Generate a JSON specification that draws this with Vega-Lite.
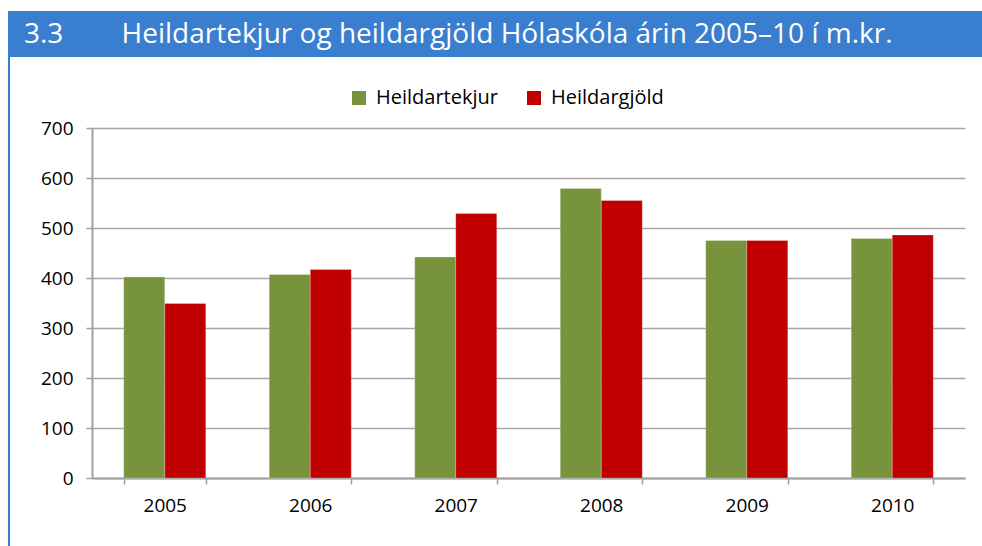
{
  "$schema": "https://vega.github.io/schema/vega-lite/v6.json",
  "padding": {"left": 8, "top": 11, "right": 0, "bottom": 0},
  "background": "white",
  "spacing": 0,
  "resolve": {"legend": {"color": "independent"}},
  "config": {"font": "Open Sans", "concat": {"spacing": 0}},
  "hconcat": [
    {
      "width": 2,
      "height": 535,
      "view": {"fill": "#397ECF", "stroke": null},
      "data": {"values": [{}]},
      "mark": {"type": "text"},
      "encoding": {"text": {"value": ""}}
    },
    {
      "spacing": 0,
      "resolve": {"legend": {"color": "independent"}},
      "vconcat": [
        {
          "width": 890,
          "height": 46,
          "view": {"stroke": null},
          "data": {"values": [{"label": "3.3\u00a0\u00a0\u00a0\u00a0\u00a0\u00a0\u00a0\u00a0Heildartekjur og heildargjöld Hólaskóla árin 2005–10 í m.kr."}]},
          "layer": [
            {
              "mark": {"type": "rect", "color": "#397ECF"},
              "encoding": {"x": {"value": -82}, "x2": {"value": 890}, "y": {"value": 0}, "y2": {"value": 46}}
            },
            {
              "mark": {"type": "text", "align": "left", "baseline": "alphabetic", "color": "white", "font": "Open Sans", "fontSize": 28},
              "encoding": {"text": {"field": "label"}, "x": {"value": -68}, "y": {"value": 32}}
            }
          ]
        },
        {
          "width": 873,
          "height": 350,
          "view": {"stroke": null},
          "data": {
            "values": [
              {"year": "2005", "series": "Heildartekjur", "value": 402},
              {"year": "2005", "series": "Heildargjöld", "value": 349},
              {"year": "2006", "series": "Heildartekjur", "value": 407},
              {"year": "2006", "series": "Heildargjöld", "value": 417},
              {"year": "2007", "series": "Heildartekjur", "value": 442},
              {"year": "2007", "series": "Heildargjöld", "value": 529},
              {"year": "2008", "series": "Heildartekjur", "value": 579},
              {"year": "2008", "series": "Heildargjöld", "value": 555},
              {"year": "2009", "series": "Heildartekjur", "value": 475},
              {"year": "2009", "series": "Heildargjöld", "value": 475},
              {"year": "2010", "series": "Heildartekjur", "value": 479},
              {"year": "2010", "series": "Heildargjöld", "value": 486}
            ]
          },
          "mark": {"type": "bar", "stroke": "white", "strokeOpacity": 0.25, "strokeWidth": 1},
          "encoding": {
            "x": {
              "field": "year",
              "type": "nominal",
              "scale": {"paddingInner": 0.436, "paddingOuter": 0.218},
              "axis": {
                "title": null,
                "labelAngle": 0,
                "tickBand": "extent",
                "domainColor": "#A0A0A0",
                "domainWidth": 2,
                "tickColor": "#A0A0A0",
                "tickWidth": 1.5,
                "tickSize": 6,
                "labelFont": "Open Sans",
                "labelFontSize": 19,
                "labelColor": "black",
                "labelPadding": 12,
                "grid": false
              }
            },
            "xOffset": {"field": "series", "type": "nominal", "sort": ["Heildartekjur", "Heildargjöld"]},
            "y": {
              "field": "value",
              "type": "quantitative",
              "scale": {"domain": [0, 700], "nice": false},
              "axis": {
                "title": null,
                "values": [0, 100, 200, 300, 400, 500, 600, 700],
                "grid": true,
                "gridColor": "#A6A6A6",
                "gridWidth": 1.5,
                "domainColor": "#A0A0A0",
                "domainWidth": 2,
                "tickColor": "#A0A0A0",
                "tickWidth": 1.5,
                "tickSize": 6,
                "labelFont": "Open Sans",
                "labelFontSize": 19,
                "labelColor": "black",
                "labelPadding": 13
              }
            },
            "color": {
              "field": "series",
              "type": "nominal",
              "sort": ["Heildartekjur", "Heildargjöld"],
              "scale": {"domain": ["Heildartekjur", "Heildargjöld"], "range": ["#77933C", "#C00000"]},
              "legend": {
                "title": null,
                "orient": "none",
                "legendX": 226,
                "legendY": -71,
                "direction": "horizontal",
                "symbolType": "square",
                "symbolSize": 196,
                "symbolStrokeWidth": 0,
                "labelFont": "Open Sans",
                "labelFontSize": 20,
                "labelColor": "black",
                "labelOffset": 7,
                "columnPadding": 26,
                "padding": 31
              }
            }
          }
        }
      ]
    }
  ]
}
